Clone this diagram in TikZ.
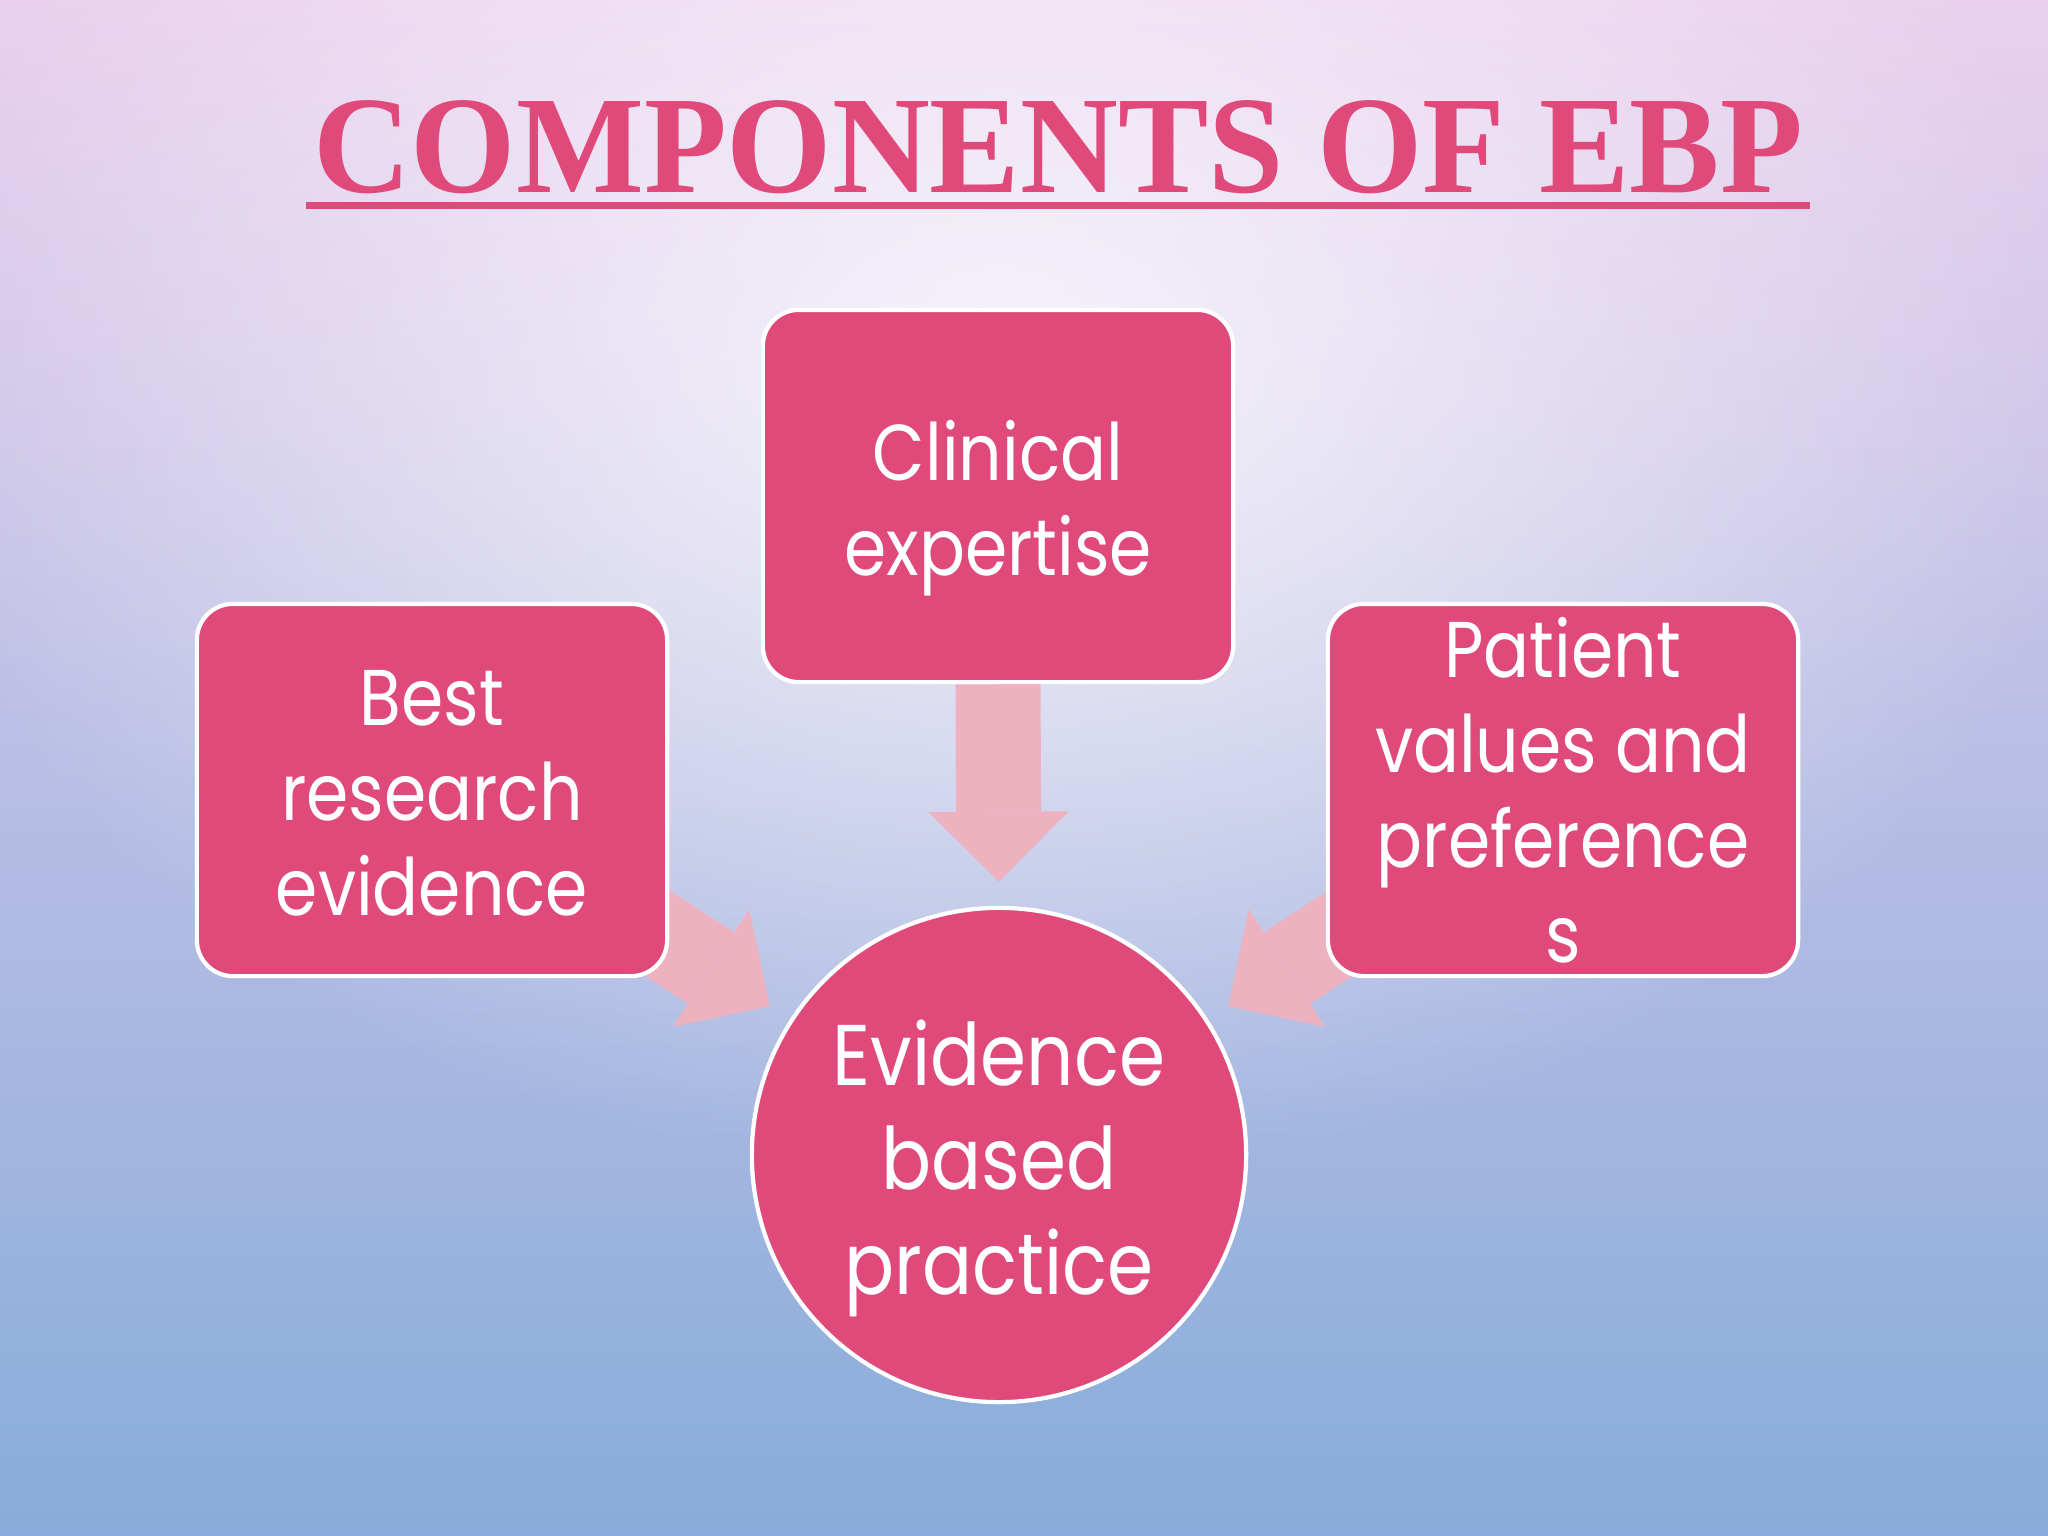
\documentclass[tikz,border=0pt]{standalone}
\usepackage{fontspec}
\setmainfont{Liberation Serif}
\newfontfamily\titlefont[FakeStretch=0.975]{Liberation Serif}
\newfontfamily\boxfont[FakeStretch=0.86]{Poppins}
\usetikzlibrary{arrows.meta,calc,fadings}
\definecolor{ebppink}{RGB}{224,74,122}
\definecolor{flowpink}{RGB}{238,177,192}
\definecolor{bgtop}{RGB}{234,208,238}
\definecolor{bgmid}{RGB}{204,204,236}
\definecolor{bgbot}{RGB}{136,172,219}
\tikzfading[name=glow, inner color=transparent!0, outer color=transparent!100]
\pgfdeclarelayer{back}
\pgfdeclarelayer{under}
\pgfsetlayers{back,under,main}

\begin{document}
\begin{tikzpicture}[x=0.01cm, y=-0.01cm,
  box/.style={rectangle, rounded corners=0.36cm, fill=ebppink, draw=white, line width=1.2pt,
    minimum width=4.7cm, minimum height=3.72cm, align=center, text=white,
    font=\boxfont\fontsize{22.5}{27}\selectfont},
  hub/.style={circle, fill=ebppink, draw=white, line width=1.2pt, minimum size=4.94cm,
    inner sep=0pt, align=center, text=white, font=\boxfont\fontsize{24.5}{29.8}\selectfont},
  flow/.style={draw=flowpink, line width=0.85cm,
    -{Triangle[width=1.4cm, length=0.7cm, line width=0pt]}},
  titletext/.style={text=ebppink, font=\titlefont\bfseries\fontsize{39.5}{39.5}\selectfont,
    inner xsep=0.06cm, inner ysep=0.115cm},
  uline/.style={draw=ebppink, line width=2pt}]
\useasboundingbox (0,0) rectangle (2048,1536);

% Fond
\begin{pgfonlayer}{back}
\shade[top color=bgtop, middle color=bgmid, bottom color=bgbot] (0,0) rectangle (2048,1536);
\fill[white, fill opacity=0.8, path fading=glow] (1000,380) ellipse [x radius=11cm, y radius=8cm];
\end{pgfonlayer}

% Titre
\node[titletext, anchor=base] (title) at (1058,192) {COMPONENTS OF EBP};
\draw[uline] (title.south west) -- (title.south east);

% Blocs
\node[box] (clin) at (998,496) {\rule{0pt}{0.84cm}Clinical\\expertise};
\node[box] (best) at (432,790) {\rule{0pt}{0.62cm}Best\\research\\evidence};
\node[box] (pat) at (1563,790) {Patient\\values and\\preference\\s};
\node[hub] (ebp) at (999,1155) {\rule{0pt}{0.92cm}Evidence\\based\\practice};

% Fleches
\begin{pgfonlayer}{under}
\draw[flow, shorten >=0.24cm] (clin.south) -- (ebp.north);
\draw[flow, shorten >=0.24cm] ($(ebp.147)+(147:3.3cm)$) -- (ebp.147);
\draw[flow, shorten >=0.24cm] ($(ebp.33)+(33:3.3cm)$) -- (ebp.33);
\end{pgfonlayer}

\end{tikzpicture}
\end{document}
